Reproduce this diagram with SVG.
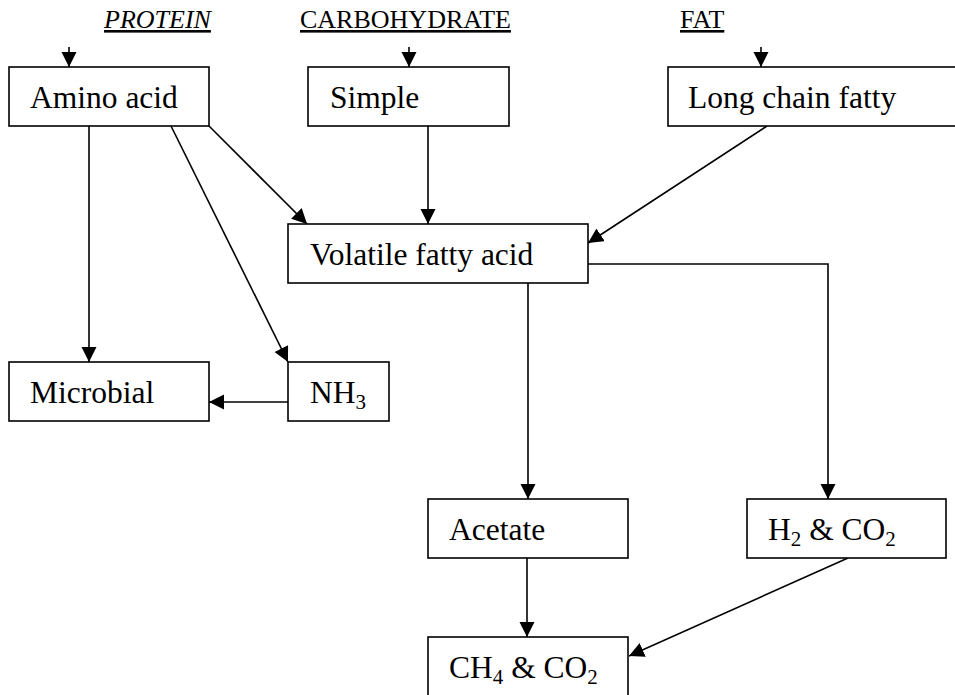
<svg xmlns="http://www.w3.org/2000/svg" width="955" height="695" viewBox="0 0 955 695">
<style>
.box{fill:#fff;stroke:#000;stroke-width:1.6}
.t{font-family:"Liberation Serif","Times New Roman",serif;font-size:31.5px;fill:#000}
.h{font-family:"Liberation Serif","Times New Roman",serif;font-size:26px;fill:#000;text-decoration:underline}
.sub{font-size:21px}
.c{fill:none;stroke:#000;stroke-width:1.6}
</style>
<defs>
<marker id="ah" markerUnits="userSpaceOnUse" markerWidth="16" markerHeight="16" refX="15" refY="7.5" orient="auto">
<path d="M0,0 L15,7.5 L0,15 z" fill="#000"/>
</marker>
</defs>
<rect width="955" height="695" fill="#fff"/>
<g id="headings">
<text class="h" x="104" y="28" font-style="italic">PROTEIN</text>
<text class="h" x="300" y="28">CARBOHYDRATE</text>
<text class="h" x="680" y="28">FAT</text>
</g>
<g id="connectors">
<line class="c" x1="69" y1="47" x2="69" y2="67" marker-end="url(#ah)"/>
<line class="c" x1="409" y1="47" x2="409" y2="67" marker-end="url(#ah)"/>
<line class="c" x1="761" y1="47" x2="761" y2="67" marker-end="url(#ah)"/>
<line class="c" x1="89" y1="126" x2="89" y2="362" marker-end="url(#ah)"/>
<line class="c" x1="171" y1="126" x2="288" y2="362" marker-end="url(#ah)"/>
<line class="c" x1="209" y1="126" x2="307" y2="224" marker-end="url(#ah)"/>
<line class="c" x1="428" y1="126" x2="428" y2="224" marker-end="url(#ah)"/>
<line class="c" x1="767" y1="126" x2="588" y2="243" marker-end="url(#ah)"/>
<line class="c" x1="288" y1="402" x2="209" y2="402" marker-end="url(#ah)"/>
<line class="c" x1="528" y1="283" x2="528" y2="499" marker-end="url(#ah)"/>
<polyline class="c" points="588,264 828,264 828,499" marker-end="url(#ah)"/>
<line class="c" x1="527" y1="558" x2="527" y2="637" marker-end="url(#ah)"/>
<line class="c" x1="848" y1="558" x2="629" y2="656" marker-end="url(#ah)"/>
</g>
<g id="amino"><rect class="box" x="9" y="67" width="200" height="59"/><text class="t" x="30" y="108">Amino acid</text></g>
<g id="simple"><rect class="box" x="308" y="67" width="201" height="59"/><text class="t" x="330" y="108">Simple</text></g>
<g id="longchain"><rect class="box" x="668" y="67" width="300" height="59"/><text class="t" x="688" y="108">Long chain fatty</text></g>
<g id="vfa"><rect class="box" x="288" y="224" width="300" height="59"/><text class="t" x="310" y="265">Volatile fatty acid</text></g>
<g id="microbial"><rect class="box" x="9" y="362" width="200" height="59"/><text class="t" x="30" y="403">Microbial</text></g>
<g id="nh3"><rect class="box" x="288" y="362" width="101" height="59"/><text class="t" x="310" y="403">NH<tspan class="sub" dy="6">3</tspan></text></g>
<g id="acetate"><rect class="box" x="428" y="499" width="200" height="59"/><text class="t" x="449" y="540">Acetate</text></g>
<g id="h2co2"><rect class="box" x="747" y="499" width="199" height="59"/><text class="t" x="768" y="540">H<tspan class="sub" dy="6">2</tspan><tspan dy="-6"> &amp; CO</tspan><tspan class="sub" dy="6">2</tspan></text></g>
<g id="ch4co2"><rect class="box" x="428" y="637" width="200" height="62"/><text class="t" x="449" y="678">CH<tspan class="sub" dy="6">4</tspan><tspan dy="-6"> &amp; CO</tspan><tspan class="sub" dy="6">2</tspan></text></g>
</svg>
